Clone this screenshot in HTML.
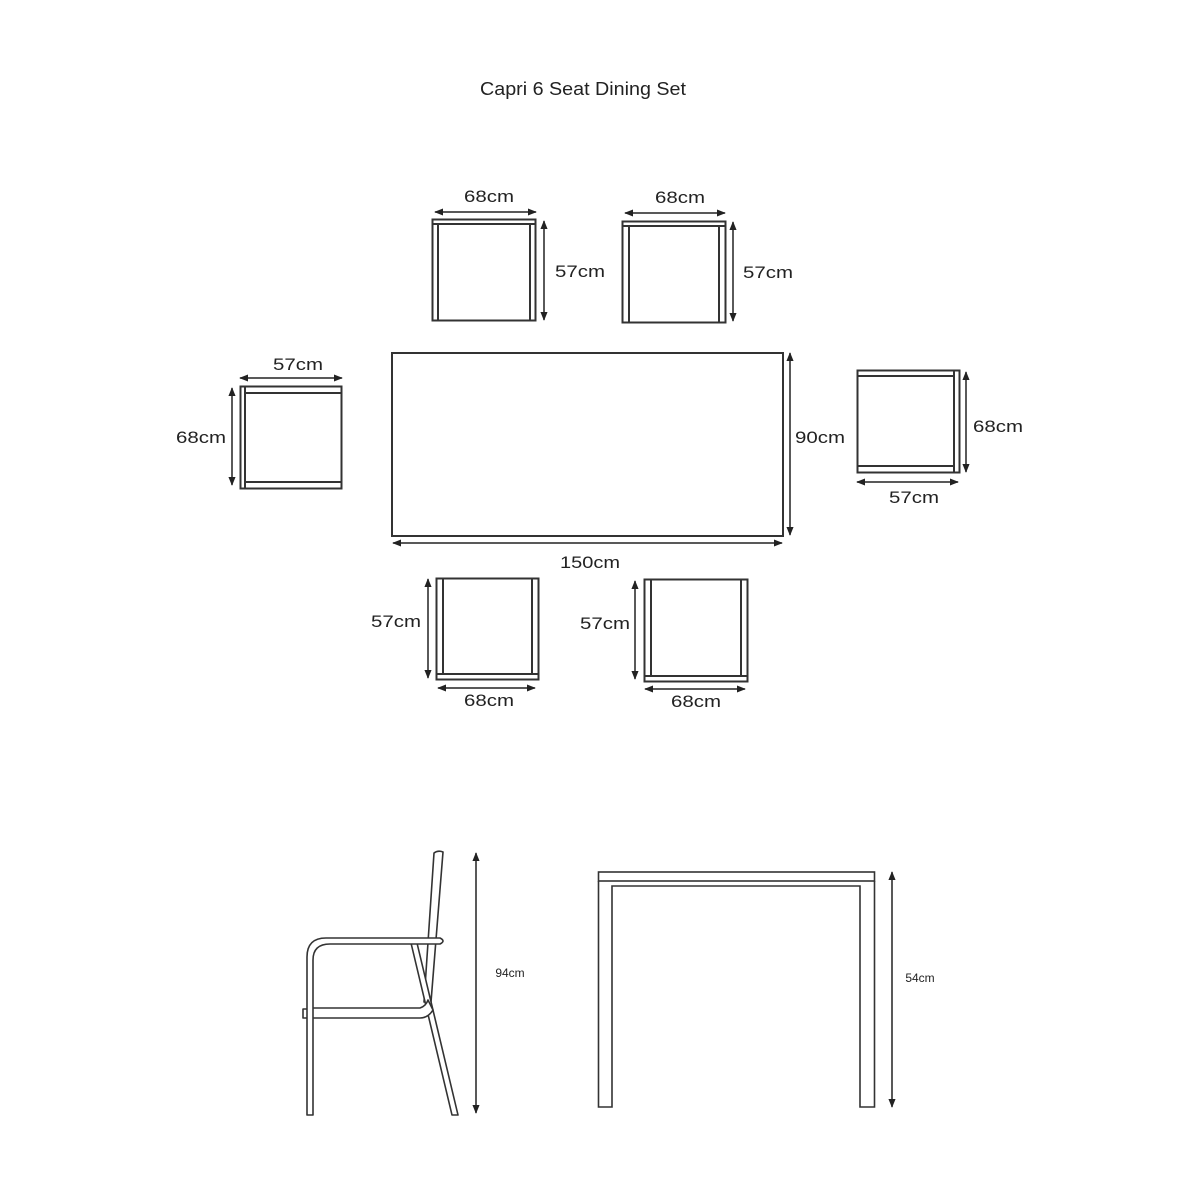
<!DOCTYPE html>
<html><head><meta charset="utf-8"><style>
html,body{margin:0;padding:0;background:#fff;}
svg{display:block;}
text{font-family:"Liberation Sans",sans-serif;fill:#222;}
</style></head><body>
<svg width="1200" height="1200" viewBox="0 0 1200 1200" xmlns="http://www.w3.org/2000/svg">
<defs>
<marker id="a" viewBox="0 0 10 10" refX="9" refY="5" markerWidth="6" markerHeight="6" orient="auto-start-reverse"><path d="M0,1 L10,5 L0,9 z" fill="#222"/></marker>
</defs>
<text x="583" y="95" font-size="18" text-anchor="middle" textLength="206" lengthAdjust="spacingAndGlyphs">Capri 6 Seat Dining Set</text>

<g fill="none" stroke="#333" stroke-width="2">
<!-- top chair 1 -->
<rect x="432.5" y="219.5" width="103" height="101"/>
<line x1="433" y1="224" x2="535" y2="224"/><line x1="438" y1="224" x2="438" y2="320"/><line x1="530" y1="224" x2="530" y2="320"/>
<!-- top chair 2 -->
<rect x="622.5" y="221.5" width="103" height="101"/>
<line x1="623" y1="226" x2="725" y2="226"/><line x1="629" y1="226" x2="629" y2="322"/><line x1="719" y1="226" x2="719" y2="322"/>
<!-- table -->
<rect x="392" y="353" width="391" height="183"/>
<!-- left chair -->
<rect x="240.5" y="386.5" width="101" height="102"/>
<line x1="245" y1="387" x2="245" y2="488"/><line x1="245" y1="393" x2="341" y2="393"/><line x1="245" y1="482" x2="341" y2="482"/>
<!-- right chair -->
<rect x="857.5" y="370.5" width="102" height="102"/>
<line x1="954" y1="371" x2="954" y2="472"/><line x1="858" y1="376" x2="954" y2="376"/><line x1="858" y1="466" x2="954" y2="466"/>
<!-- bottom chair 1 -->
<rect x="436.5" y="578.5" width="102" height="101"/>
<line x1="443" y1="579" x2="443" y2="674"/><line x1="532" y1="579" x2="532" y2="674"/><line x1="437" y1="674" x2="538" y2="674"/>
<!-- bottom chair 2 -->
<rect x="644.5" y="579.5" width="103" height="102"/>
<line x1="651" y1="580" x2="651" y2="676"/><line x1="741" y1="580" x2="741" y2="676"/><line x1="645" y1="676" x2="747" y2="676"/>
</g>

<g stroke="#222" stroke-width="1.5" marker-start="url(#a)" marker-end="url(#a)">
<line x1="435" y1="212" x2="536" y2="212"/>
<line x1="544" y1="221" x2="544" y2="320"/>
<line x1="625" y1="213" x2="725" y2="213"/>
<line x1="733" y1="222" x2="733" y2="321"/>
<line x1="790" y1="353" x2="790" y2="535"/>
<line x1="393" y1="543" x2="782" y2="543"/>
<line x1="240" y1="378" x2="342" y2="378"/>
<line x1="232" y1="388" x2="232" y2="485"/>
<line x1="966" y1="372" x2="966" y2="472"/>
<line x1="857" y1="482" x2="958" y2="482"/>
<line x1="428" y1="579" x2="428" y2="678"/>
<line x1="438" y1="688" x2="535" y2="688"/>
<line x1="635" y1="581" x2="635" y2="679"/>
<line x1="645" y1="689" x2="745" y2="689"/>
<line x1="476" y1="853" x2="476" y2="1113"/>
<line x1="892" y1="872" x2="892" y2="1107"/>
</g>

<g font-size="17" text-anchor="middle">
<text x="489" y="202" textLength="50" lengthAdjust="spacingAndGlyphs">68cm</text>
<text x="580" y="277" textLength="50" lengthAdjust="spacingAndGlyphs">57cm</text>
<text x="680" y="203" textLength="50" lengthAdjust="spacingAndGlyphs">68cm</text>
<text x="768" y="278" textLength="50" lengthAdjust="spacingAndGlyphs">57cm</text>
<text x="820" y="443" textLength="50" lengthAdjust="spacingAndGlyphs">90cm</text>
<text x="590" y="568" textLength="60" lengthAdjust="spacingAndGlyphs">150cm</text>
<text x="298" y="370" textLength="50" lengthAdjust="spacingAndGlyphs">57cm</text>
<text x="201" y="443" textLength="50" lengthAdjust="spacingAndGlyphs">68cm</text>
<text x="998" y="432" textLength="50" lengthAdjust="spacingAndGlyphs">68cm</text>
<text x="914" y="503" textLength="50" lengthAdjust="spacingAndGlyphs">57cm</text>
<text x="396" y="627" textLength="50" lengthAdjust="spacingAndGlyphs">57cm</text>
<text x="489" y="706" textLength="50" lengthAdjust="spacingAndGlyphs">68cm</text>
<text x="605" y="629" textLength="50" lengthAdjust="spacingAndGlyphs">57cm</text>
<text x="696" y="707" textLength="50" lengthAdjust="spacingAndGlyphs">68cm</text>
</g>
<text x="510" y="977" font-size="12" text-anchor="middle">94cm</text>
<text x="920" y="982" font-size="12" text-anchor="middle">54cm</text>

<!-- side chair -->
<g fill="#fff" stroke="#333" stroke-width="1.6" stroke-linejoin="round">
<!-- backrest -->
<path d="M434,853 Q438,850 443,852 L431,1002 L424,1002 Z"/>
<!-- rear leg -->
<path d="M411,943 L417,943 L458,1115 L452,1115 Z"/>
<!-- seat bar -->
<path d="M312,1008 L420,1008 Q426,1006 428,1000 L433,1010 Q428,1018 420,1018 L312,1018 Z"/>
<rect x="303" y="1009" width="5" height="9"/>
<!-- front leg + armrest -->
<path d="M307,1115 L307,957 Q307,938 326,938 L440,938 Q446,941 440,944 L330,944 Q313,944 313,960 L313,1115 Z"/>
</g>

<!-- side table -->
<g fill="none" stroke="#333" stroke-width="1.6">
<rect x="598.5" y="872" width="276" height="9"/>
<path d="M598.5,881 L598.5,1107 L612,1107 L612,886 L860,886 L860,1107 L874.5,1107 L874.5,881"/>
</g>
</svg>
</body></html>
